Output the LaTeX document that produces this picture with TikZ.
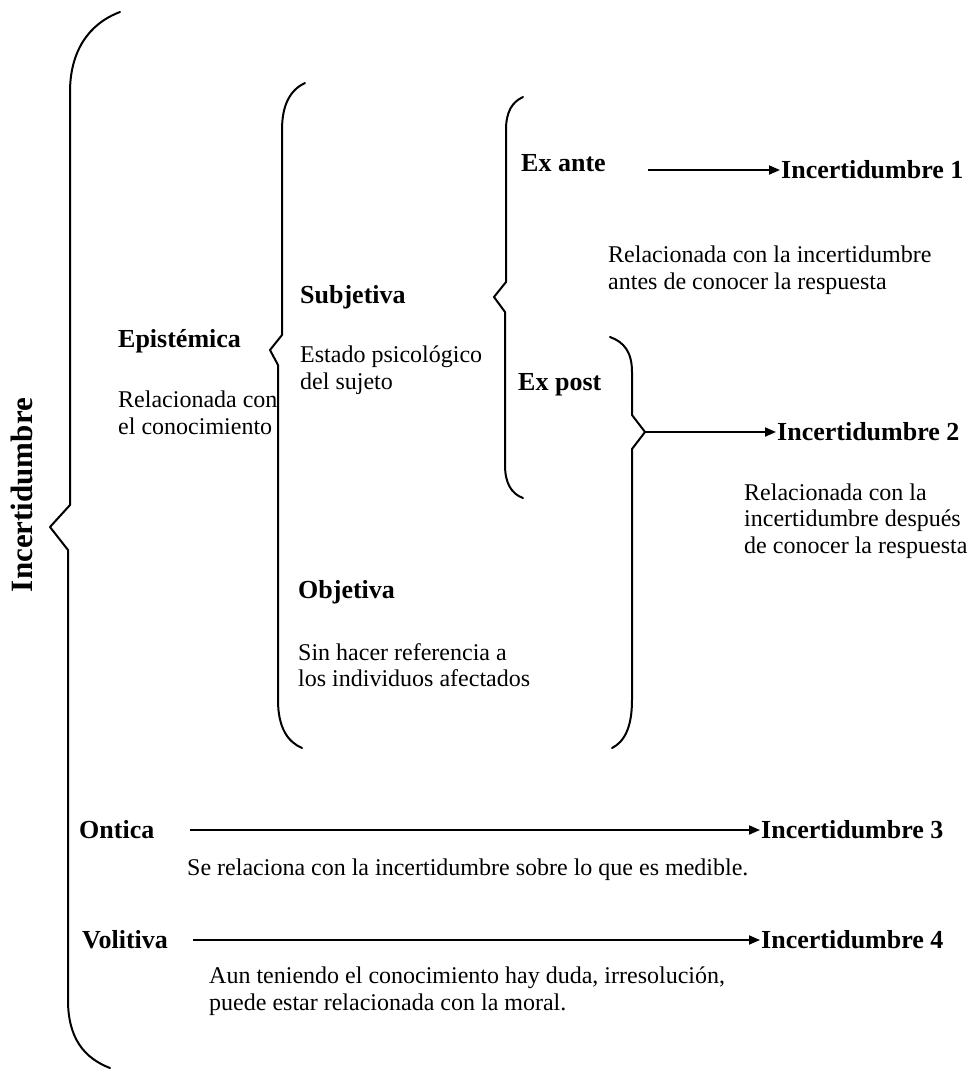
\documentclass[tikz,border=0pt]{standalone}
\usepackage{fontspec}
\setmainfont{Liberation Serif}
\usetikzlibrary{arrows.meta}
\begin{document}
\begin{tikzpicture}[x=1pt,y=-1pt,
  brace/.style={line width=2pt,line join=round,line cap=round},
  conn/.style={line width=1.8pt,-{Triangle[length=11pt,width=9pt]}},
  head/.style={font=\fontsize{26}{28}\selectfont\bfseries,inner sep=0pt,anchor=west},
  desc/.style={font=\fontsize{24}{26.5}\selectfont,inner sep=0pt,anchor=west,align=left},
  target/.style={font=\fontsize{26}{28}\selectfont\bfseries,inner sep=1pt,anchor=west}]
\useasboundingbox (0,0) rectangle (971,1072);

% big brace
\draw[brace] (120,12) .. controls (88,24) and (70,52) .. (70,92) -- (70,505) -- (50,527) -- (68,550) -- (68,1000) .. controls (68,1038) and (84,1058) .. (110,1068);
\node[font=\fontsize{31}{33}\selectfont\bfseries,rotate=90,inner sep=0pt] (inc) at (22,495) {Incertidumbre};

% Epistémica
\node[head] (epi) at (118,341) {Epistémica};
\node[desc] (epid) at (118,413) {Relacionada con\\el conocimiento};

% brace 2
\draw[brace] (305,83) .. controls (290,90) and (282,105) .. (282,130) -- (282,335) -- (270,350) -- (278,365) -- (278,700) .. controls (278,728) and (288,742) .. (302,748);

\node[head] (subj) at (300,297) {Subjetiva};
\node[desc] (subjd) at (300,370) {Estado psicológico\\del sujeto};
\node[head] (obj) at (298,592) {Objetiva};
\node[desc] (objd) at (298,665) {Sin hacer referencia a\\los individuos afectados};

% brace 3
\draw[brace] (523,97) .. controls (512,102) and (506,112) .. (506,130) -- (506,282) -- (494,297) -- (505,312) -- (505,465) .. controls (505,484) and (512,494) .. (523,498);

\node[head] (exante) at (521,163) {Ex ante};
\node[target] (inc1) at (780,170) {Incertidumbre 1};
\coordinate (a1) at (648,170);
\draw[conn] (a1) -- (inc1.west);
\node[desc] (d1) at (608,270) {Relacionada con la incertidumbre\\antes de conocer la respuesta};

\node[head] (expost) at (518,385) {Ex post};

% brace 4
\draw[brace] (610,337) .. controls (624,342) and (632,352) .. (632,372) -- (632,415) -- (645,432) -- (632,449) -- (632,700) .. controls (632,728) and (624,742) .. (612,748);
\coordinate (tip4) at (645,432);
\node[target] (inc2) at (776,432) {Incertidumbre 2};
\draw[conn] (tip4) -- (inc2.west);
\node[desc] (d2) at (744,521) {Relacionada con la\\incertidumbre después\\de conocer la respuesta};

% Ontica
\node[head] (ont) at (79,830) {Ontica};
\coordinate (a3) at (190,830);
\node[target] (inc3) at (760,830) {Incertidumbre 3};
\draw[conn] (a3) -- (inc3.west);
\node[desc] (d3) at (187,870) {Se relaciona con la incertidumbre sobre lo que es medible.};

% Volitiva
\node[head] (vol) at (82,940) {Volitiva};
\coordinate (a4) at (193,940);
\node[target] (inc4) at (760,940) {Incertidumbre 4};
\draw[conn] (a4) -- (inc4.west);
\node[desc] (d4) at (209,991) {Aun teniendo el conocimiento hay duda, irresolución,\\puede estar relacionada con la moral.};
\end{tikzpicture}
\end{document}
